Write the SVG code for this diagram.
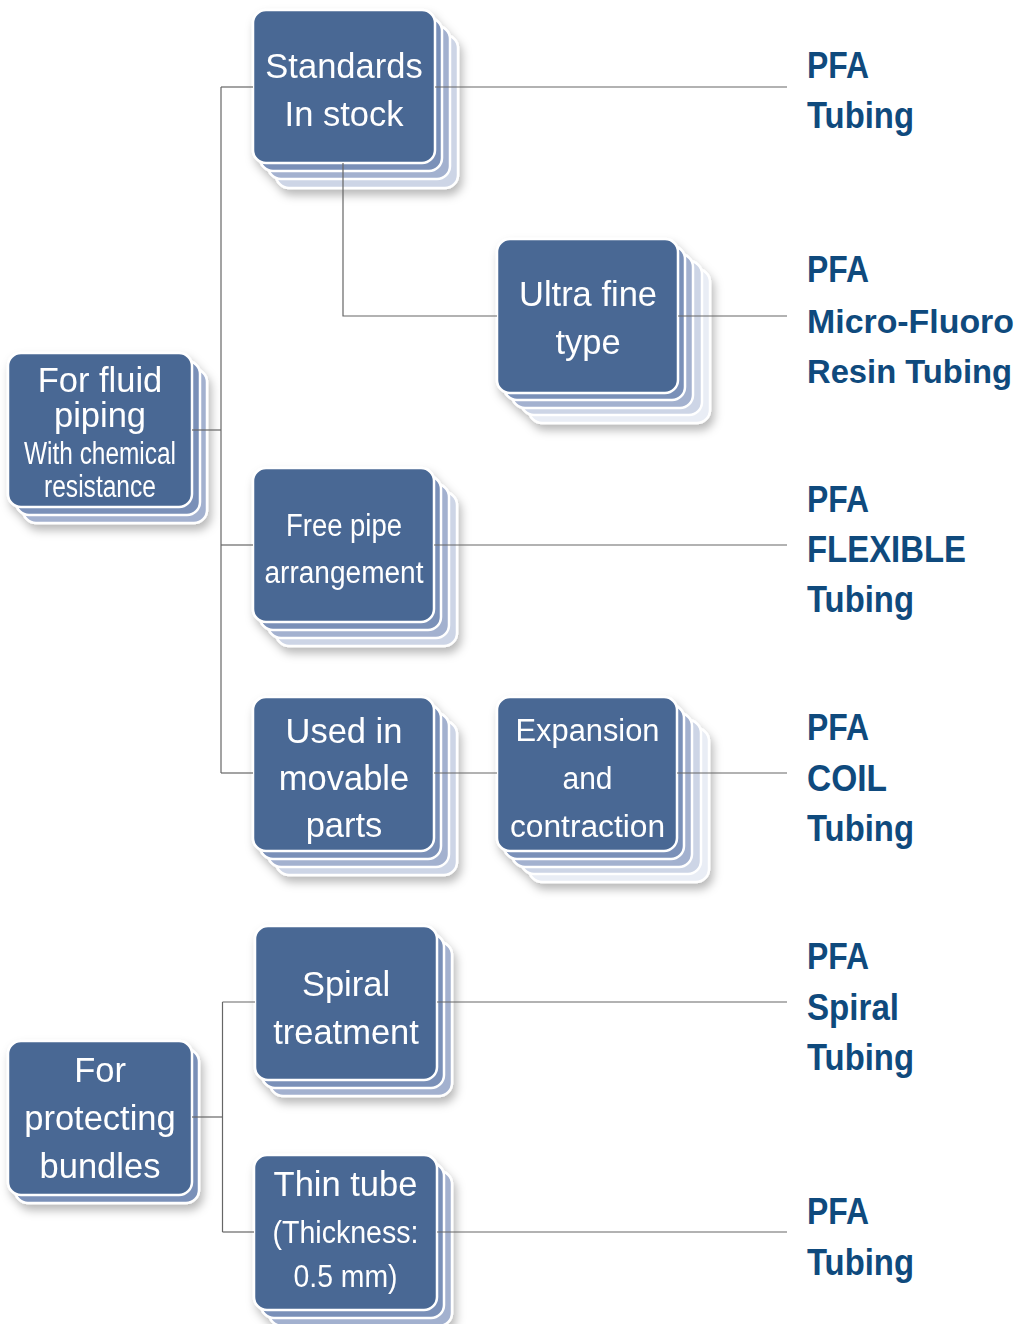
<svg xmlns="http://www.w3.org/2000/svg" width="1026" height="1324" viewBox="0 0 1026 1324">
<defs>
<filter id="sh" x="-20%" y="-20%" width="150%" height="150%">
<feDropShadow dx="3" dy="6" stdDeviation="5" flood-color="#000" flood-opacity="0.28"/>
</filter>
<style>
.m{fill:#4a6894;stroke:#fff;stroke-width:2.5}
.l1{fill:#7a90b8;stroke:#fff;stroke-width:2.5}
.l2{fill:#a3b1cf;stroke:#fff;stroke-width:2.5}
.l3{fill:#cdd5e6;stroke:#fff;stroke-width:2.5}
.l4{fill:#e9edf5;stroke:#fff;stroke-width:2.5}
.t{font-family:"Liberation Sans",Arial,sans-serif;font-size:34.5px;fill:#fff;text-anchor:middle}
.tc{font-family:"Liberation Sans",Arial,sans-serif;font-size:31px;fill:#fff;text-anchor:middle}
.lb{font-family:"Liberation Sans",Arial,sans-serif;font-size:37px;font-weight:bold;fill:#0f4a7d}
.c{fill:none;stroke:#666;stroke-width:1.2}
</style>
</defs>
<rect width="1026" height="1324" fill="#fff"/>

<g id="n-standards" filter="url(#sh)">
<rect class="l3" x="276" y="35" width="182" height="153" rx="13"/>
<rect class="l2" x="268" y="26" width="182" height="153" rx="13"/>
<rect class="l1" x="260" y="18" width="182" height="153" rx="13"/>
<rect class="m" x="253" y="10" width="182" height="153" rx="13"/>
<text class="t" x="344" y="78">Standards</text>
<text class="t" x="344" y="126">In stock</text>
</g>

<g id="n-ultrafine" filter="url(#sh)">
<rect class="l4" x="529" y="269" width="181" height="154" rx="13"/>
<rect class="l3" x="521" y="261" width="181" height="154" rx="13"/>
<rect class="l2" x="512" y="254" width="181" height="154" rx="13"/>
<rect class="l1" x="504" y="246" width="181" height="154" rx="13"/>
<rect class="m" x="497" y="239" width="181" height="154" rx="13"/>
<text class="t" x="588" y="306">Ultra fine</text>
<text class="t" x="588" y="354">type</text>
</g>

<g id="n-fluid" filter="url(#sh)">
<rect class="l2" x="23" y="369" width="184" height="154" rx="13"/>
<rect class="l1" x="16" y="361" width="184" height="154" rx="13"/>
<rect class="m" x="8" y="353" width="184" height="154" rx="13"/>
<text class="t" x="100" y="392">For fluid</text>
<text class="t" x="100" y="427">piping</text>
<text class="tc" x="100" y="464" textLength="152" lengthAdjust="spacingAndGlyphs">With chemical</text>
<text class="tc" x="100" y="497" textLength="112" lengthAdjust="spacingAndGlyphs">resistance</text>
</g>

<g id="n-freepipe" filter="url(#sh)">
<rect class="l3" x="276" y="492" width="181" height="154" rx="13"/>
<rect class="l2" x="268" y="484" width="181" height="154" rx="13"/>
<rect class="l1" x="260" y="476" width="181" height="154" rx="13"/>
<rect class="m" x="253" y="468" width="181" height="154" rx="13"/>
<text class="tc" x="344" y="536" textLength="116" lengthAdjust="spacingAndGlyphs">Free pipe</text>
<text class="tc" x="344" y="583" textLength="159" lengthAdjust="spacingAndGlyphs">arrangement</text>
</g>

<g id="n-movable" filter="url(#sh)">
<rect class="l3" x="276" y="721" width="181" height="154" rx="13"/>
<rect class="l2" x="268" y="713" width="181" height="154" rx="13"/>
<rect class="l1" x="260" y="705" width="181" height="154" rx="13"/>
<rect class="m" x="253" y="697" width="181" height="154" rx="13"/>
<text class="t" x="344" y="743">Used in</text>
<text class="t" x="344" y="790">movable</text>
<text class="t" x="344" y="837">parts</text>
</g>

<g id="n-expansion" filter="url(#sh)">
<rect class="l4" x="529" y="728" width="180" height="154" rx="13"/>
<rect class="l3" x="521" y="720" width="180" height="154" rx="13"/>
<rect class="l2" x="512" y="713" width="180" height="154" rx="13"/>
<rect class="l1" x="504" y="705" width="180" height="154" rx="13"/>
<rect class="m" x="497" y="697" width="180" height="154" rx="13"/>
<text class="tc" x="587.5" y="741" textLength="144" lengthAdjust="spacingAndGlyphs">Expansion</text>
<text class="tc" x="587.5" y="789" textLength="50" lengthAdjust="spacingAndGlyphs">and</text>
<text class="tc" x="587.5" y="837" textLength="155" lengthAdjust="spacingAndGlyphs">contraction</text>
</g>

<g id="n-spiral" filter="url(#sh)">
<rect class="l2" x="270" y="942" width="182" height="154" rx="13"/>
<rect class="l1" x="262" y="934" width="182" height="154" rx="13"/>
<rect class="m" x="255" y="926" width="182" height="154" rx="13"/>
<text class="t" x="346" y="996">Spiral</text>
<text class="t" x="346" y="1044">treatment</text>
</g>

<g id="n-bundles" filter="url(#sh)">
<rect class="l1" x="15" y="1049" width="184" height="154" rx="13"/>
<rect class="m" x="8" y="1041" width="184" height="154" rx="13"/>
<text class="t" x="100" y="1082">For</text>
<text class="t" x="100" y="1130">protecting</text>
<text class="t" x="100" y="1178">bundles</text>
</g>

<g id="n-thintube" filter="url(#sh)">
<rect class="l2" x="269" y="1171" width="183" height="155" rx="13"/>
<rect class="l1" x="261" y="1163" width="183" height="155" rx="13"/>
<rect class="m" x="254" y="1155" width="183" height="155" rx="13"/>
<text class="t" x="345.5" y="1196">Thin tube</text>
<text class="tc" x="345.5" y="1243" textLength="146" lengthAdjust="spacingAndGlyphs">(Thickness:</text>
<text class="tc" x="345.5" y="1287" textLength="104" lengthAdjust="spacingAndGlyphs">0.5 mm)</text>
</g>

<g id="connectors">
<path class="c" d="M221,87 V773"/>
<path class="c" d="M192,430 H221"/>
<path class="c" d="M221,87 H253"/>
<path class="c" d="M221,545 H253"/>
<path class="c" d="M221,773 H253"/>
<path class="c" d="M435,87 H787"/>
<path class="c" d="M343,163 V316 H497"/>
<path class="c" d="M678,316 H787"/>
<path class="c" d="M434,545 H787"/>
<path class="c" d="M434,773 H497"/>
<path class="c" d="M677,773 H787"/>
<path class="c" d="M222.5,1002 V1232"/>
<path class="c" d="M192,1117 H222.5"/>
<path class="c" d="M222.5,1002 H255"/>
<path class="c" d="M222.5,1232 H254"/>
<path class="c" d="M437,1002 H787"/>
<path class="c" d="M437,1232 H787"/>
</g>

<g id="labels">
<text class="lb" x="807" y="78" textLength="62" lengthAdjust="spacingAndGlyphs">PFA</text>
<text class="lb" x="807" y="128" textLength="107" lengthAdjust="spacingAndGlyphs">Tubing</text>
<text class="lb" x="807" y="282" textLength="62" lengthAdjust="spacingAndGlyphs">PFA</text>
<text class="lb" x="807" y="333" style="font-size:33px" textLength="207" lengthAdjust="spacingAndGlyphs">Micro-Fluoro</text>
<text class="lb" x="807" y="383" style="font-size:33px" textLength="205" lengthAdjust="spacingAndGlyphs">Resin Tubing</text>
<text class="lb" x="807" y="512" textLength="62" lengthAdjust="spacingAndGlyphs">PFA</text>
<text class="lb" x="807" y="562" textLength="159" lengthAdjust="spacingAndGlyphs">FLEXIBLE</text>
<text class="lb" x="807" y="612" textLength="107" lengthAdjust="spacingAndGlyphs">Tubing</text>
<text class="lb" x="807" y="740" textLength="62" lengthAdjust="spacingAndGlyphs">PFA</text>
<text class="lb" x="807" y="791" textLength="80" lengthAdjust="spacingAndGlyphs">COIL</text>
<text class="lb" x="807" y="841" textLength="107" lengthAdjust="spacingAndGlyphs">Tubing</text>
<text class="lb" x="807" y="969" textLength="62" lengthAdjust="spacingAndGlyphs">PFA</text>
<text class="lb" x="807" y="1020" textLength="92" lengthAdjust="spacingAndGlyphs">Spiral</text>
<text class="lb" x="807" y="1070" textLength="107" lengthAdjust="spacingAndGlyphs">Tubing</text>
<text class="lb" x="807" y="1224" textLength="62" lengthAdjust="spacingAndGlyphs">PFA</text>
<text class="lb" x="807" y="1275" textLength="107" lengthAdjust="spacingAndGlyphs">Tubing</text>
</g>
</svg>
